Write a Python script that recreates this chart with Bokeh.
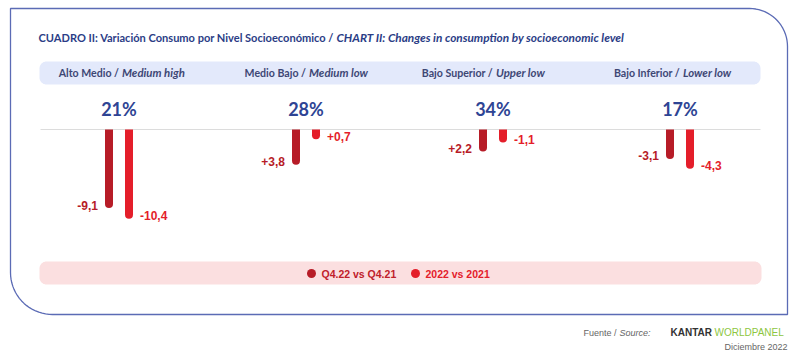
import numpy as np
from bokeh.plotting import figure
from bokeh.models import Range1d, ColumnDataSource
from bokeh.transform import dodge
from bokeh.core.properties import value
from bokeh.embed import file_html
from bokeh.resources import INLINE

# ---------------- data ----------------
levels_es = ["Alto Medio", "Medio Bajo", "Bajo Superior", "Bajo Inferior"]
levels_en = ["Medium high", "Medium low", "Upper low", "Lower low"]
share_pct = [21, 28, 34, 17]
q4_vs_q4 = [-9.1, 3.8, 2.2, -3.1]          # Q4.22 vs Q4.21
y2022_vs_2021 = [-10.4, 0.7, -1.1, -4.3]   # 2022 vs 2021
series_labels = ["Q4.22 vs Q4.21", "2022 vs 2021"]

# ---------------- styles ----------------
DARK = "#b71c27"
RED = "#e41e2a"
NAVY = "#2b3d86"
HEAD = "#3e4775"
BORDER = "#5b6bb5"
FONT = "Lato"
NUM_FONT = "Liberation Sans"


def fmt(v):
    return f"{v:+.1f}".replace(".", ",")


def rounded(x0, y0, x1, y1, tl, tr, br, bl, n=20):
    xs, ys = [], []

    def arc(cx, cy, r, a0, a1):
        if r == 0:
            xs.append(cx); ys.append(cy); return
        t = np.linspace(np.radians(a0), np.radians(a1), n)
        xs.extend(cx + r * np.cos(t)); ys.extend(cy + r * np.sin(t))

    arc(x0 + tl, y0 + tl, tl, 180, 270)
    arc(x1 - tr, y0 + tr, tr, 270, 360)
    arc(x1 - br, y1 - br, br, 0, 90)
    arc(x0 + bl, y1 - bl, bl, 90, 180)
    return xs, ys


W, H = 797, 356
X0, X1, Y0, Y1 = 0, W, 0, H
p = figure(width=W, height=H, x_range=Range1d(X0, X1), y_range=Range1d(Y1, Y0),
           output_backend="svg", toolbar_location=None, min_border=0,
           x_axis_type=None, y_axis_type=None)
p.grid.visible = False
p.outline_line_color = None
p.background_fill_color = "white"
p.border_fill_color = "white"

# value / group scales
BASE_Y = 129
PX_PER_UNIT = 8.2
G0, GSTEP = 118.5, 187.0
p.extra_y_ranges = {"val": Range1d(-(Y1 - BASE_Y) / PX_PER_UNIT, (BASE_Y - Y0) / PX_PER_UNIT)}
p.extra_x_ranges = {"grp": Range1d(-(G0 - X0) / GSTEP, (X1 - G0) / GSTEP)}
OFF = 10.0 / GSTEP

# ---------------- frame and bands ----------------
bx, by = rounded(10, 8, 787, 314, 0, 38, 0, 42)
p.patch(bx, by, fill_color=None, line_color=BORDER, line_width=1.3)
hx, hy = rounded(39, 61, 760, 84, 7, 7, 7, 7)
p.patch(hx, hy, fill_color="#e3e9fb", line_color=None)
lx, ly = rounded(39, 261, 761, 284, 7, 7, 7, 7)
p.patch(lx, ly, fill_color="#fbdfe0", line_color=None)

# title
p.text(x=[38], y=[37], text=["CUADRO II: Variación Consumo por Nivel Socioeconómico /"],
       text_font=value(FONT), text_font_style="bold", text_font_size="11.05px",
       text_color=NAVY, text_baseline="middle", text_align="left")
p.text(x=[336], y=[37], text=["CHART II: Changes in consumption by socioeconomic level"],
       text_font=value(FONT), text_font_style="bold italic", text_font_size="11.8px",
       text_color=NAVY, text_baseline="middle", text_align="left")

# ---------------- data source ----------------
src = ColumnDataSource(dict(
    idx=list(range(len(levels_es))),
    es=[s + " /" for s in levels_es],
    en=levels_en,
    pct=[f"{v}%" for v in share_pct],
    yq=[-abs(v) for v in q4_vs_q4],
    ya=[-abs(v) for v in y2022_vs_2021],
    lq=[fmt(v) for v in q4_vs_q4],
    la=[fmt(v) for v in y2022_vs_2021],
))

# header labels
p.text(x="idx", y=72, text="es", source=src, x_range_name="grp", x_offset=0,
       text_font=value(FONT), text_font_style="bold", text_font_size="10.6px",
       text_color=HEAD, text_baseline="middle", text_align="right")
p.text(x="idx", y=72, text="en", source=src, x_range_name="grp", x_offset=3,
       text_font=value(FONT), text_font_style="bold italic", text_font_size="11.4px",
       text_color=HEAD, text_baseline="middle", text_align="left")

# percentages
p.text(x="idx", y=108, text="pct", source=src, x_range_name="grp",
       text_font=value(FONT), text_font_style="bold", text_font_size="18px",
       text_color="#2e4494", text_baseline="middle", text_align="center")

# baseline
p.segment(x0=[40], y0=[0], x1=[760], y1=[0], y_range_name="val",
          line_color="#dcdcdc", line_width=1)

# bars
for col, lab, off, color, align, xo in [("yq", "lq", -OFF, DARK, "right", -11),
                                         ("ya", "la", OFF, RED, "left", 11)]:
    xs = dodge("idx", off)
    p.segment(x0=xs, y0=0, x1=xs, y1=col, source=src, x_range_name="grp",
              y_range_name="val", line_color=color, line_width=8, line_cap="butt")
    p.scatter(x=xs, y=col, source=src, x_range_name="grp", y_range_name="val",
              marker="circle", size=8, fill_color=color, line_color=None)
    p.text(x=xs, y=col, text=lab, source=src, x_range_name="grp", y_range_name="val",
           x_offset=xo, y_offset=1, text_font=value(NUM_FONT), text_font_style="bold",
           text_font_size="12px", text_color=color, text_baseline="middle",
           text_align=align)

# legend
p.scatter(x=[311, 415], y=[273, 273], marker="circle", size=9,
          fill_color=[DARK, RED], line_color=None)
p.text(x=[321, 425], y=[273, 273], text=series_labels, text_font=value(NUM_FONT),
       text_font_style="bold", text_font_size="10.5px", text_color=["#c0202a", "#e4202b"],
       text_baseline="middle", text_align="left")

# footer
p.text(x=[616], y=[332], text=["Fuente /"], text_font=value(NUM_FONT),
       text_font_size="9px", text_color="#666666", text_baseline="middle", text_align="right")
p.text(x=[619], y=[332], text=["Source:"], text_font=value(NUM_FONT), text_font_style="italic",
       text_font_size="9px", text_color="#666666", text_baseline="middle")
p.text(x=[670], y=[332], text=["KANTAR"], text_font=value(NUM_FONT), text_font_style="bold",
       text_font_size="10px", text_color="#333333", text_baseline="middle")
p.text(x=[714], y=[332], text=["WORLDPANEL"], text_font=value(NUM_FONT),
       text_font_size="10px", text_color="#8dc63f", text_baseline="middle")
p.text(x=[787], y=[346], text=["Diciembre 2022"], text_font=value(NUM_FONT),
       text_font_size="9px", text_color="#666666", text_baseline="middle", text_align="right")

open("out.html", "w").write(file_html(p, INLINE))
